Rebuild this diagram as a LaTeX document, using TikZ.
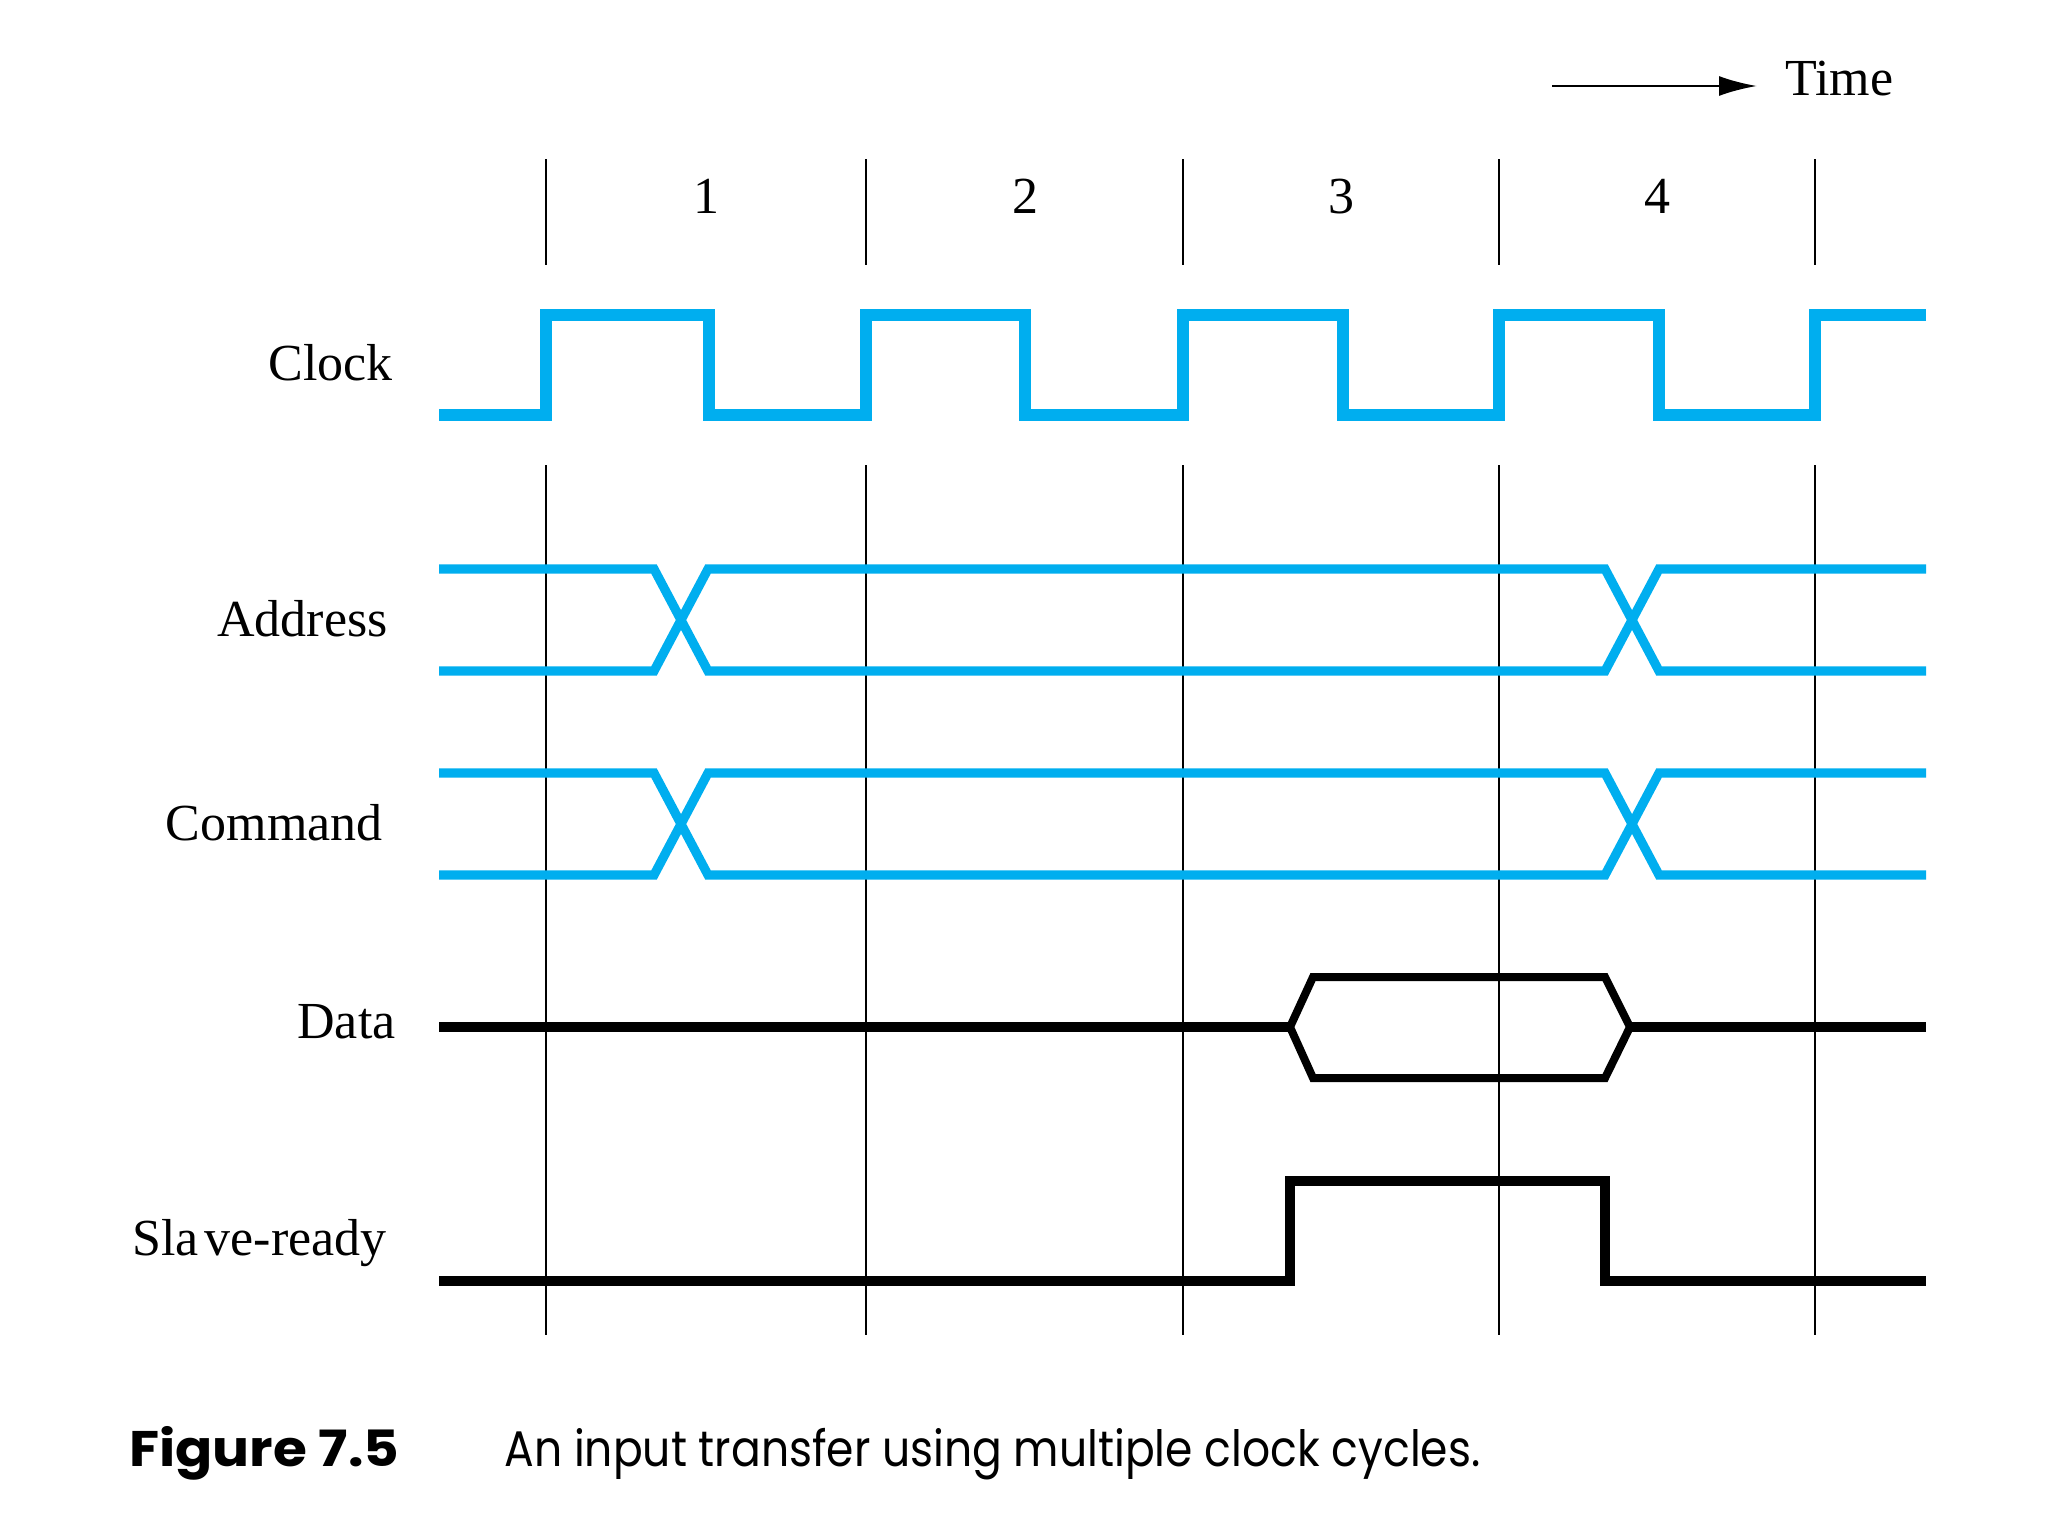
\documentclass[tikz,border=0pt]{standalone}
\usepackage{fontspec}
\usepackage{graphicx}
\setmainfont{Liberation Serif}
\newfontfamily\capfont{Poppins}
\usetikzlibrary{arrows.meta}
\definecolor{sigblue}{RGB}{0,174,239}
\begin{document}
\begin{tikzpicture}[x=0.5pt,y=-0.5pt,
  lbl/.style={anchor=base east,inner sep=0pt,font=\fontsize{26}{30}\selectfont},
  num/.style={anchor=base,inner sep=0pt,font=\fontsize{26}{30}\selectfont},
  grid/.style={black,line width=1.3pt},
  clk/.style={sigblue,line width=6pt,line join=miter,line cap=butt},
  bus/.style={sigblue,line width=4.6pt,line join=miter,line cap=butt},
  blk/.style={black,line width=4.6pt,line join=miter,line cap=butt},
  hexa/.style={black,line width=4pt,line join=miter}]
\useasboundingbox[fill=white] (0,0) rectangle (2048,1536);
% Time arrow
\coordinate (ta) at (1552,86);
\coordinate (tb) at (1757,86);
\node[anchor=base west,inner sep=0pt,font=\fontsize{26}{30}\selectfont] (time) at (1785,96) {Time};
\draw[line width=1.3pt,-{Latex[length=19pt,width=10pt]}] (ta) -- (tb);
% grid lines
\foreach \x in {546,866,1183,1499,1815} {
  \draw[grid] (\x,159) -- (\x,265);
  \draw[grid] (\x,465) -- (\x,1335);
}
% cycle numbers
\node[num] (n1) at (706,213) {1};
\node[num] (n2) at (1025,213) {2};
\node[num] (n3) at (1341,213) {3};
\node[num] (n4) at (1657,213) {4};
% labels
\node[lbl] (lclk) at (393,380) {Clock};
\node[lbl] (ladr) at (388,636) {Address};
\node[lbl] (lcmd) at (383,840) {Command};
\node[lbl] (ldat) at (396,1038) {Data};
\node[lbl] (lsr) at (387,1255) {Sla\kern3pt ve-ready};
% clock
\draw[clk] (439,415) -- (546,415) -- (546,315) -- (709,315) -- (709,415)
  -- (866,415) -- (866,315) -- (1025,315) -- (1025,415)
  -- (1183,415) -- (1183,315) -- (1343,315) -- (1343,415)
  -- (1499,415) -- (1499,315) -- (1659,315) -- (1659,415)
  -- (1815,415) -- (1815,315) -- (1926,315);
% address
\draw[bus] (439,569) -- (654,569) -- (708,671) -- (1605,671) -- (1659,569) -- (1926,569);
\draw[bus] (439,671) -- (654,671) -- (708,569) -- (1605,569) -- (1659,671) -- (1926,671);
% command
\draw[bus] (439,773) -- (654,773) -- (708,875) -- (1605,875) -- (1659,773) -- (1926,773);
\draw[bus] (439,875) -- (654,875) -- (708,773) -- (1605,773) -- (1659,875) -- (1926,875);
% data
\draw[blk] (439,1027) -- (1290,1027);
\draw[blk] (1630,1027) -- (1926,1027);
\draw[hexa] (1290,1027) -- (1313,977) -- (1605,977) -- (1630,1027) -- (1605,1078) -- (1313,1078) -- cycle;
% slave-ready
\draw[blk] (439,1281) -- (1290,1281) -- (1290,1181) -- (1605,1181) -- (1605,1281) -- (1926,1281);
% caption
\node[anchor=base west,inner sep=0pt,font=\capfont\bfseries\fontsize{25}{30}\selectfont] (fig) at (129,1466) {\resizebox{135pt}{\height}{Figure 7.5}};
\node[anchor=base west,inner sep=0pt,font=\capfont\fontsize{25}{30}\selectfont] (cap) at (504,1466) {\resizebox{488pt}{\height}{An input transfer using multiple clock cycles.}};
\end{tikzpicture}
\end{document}
